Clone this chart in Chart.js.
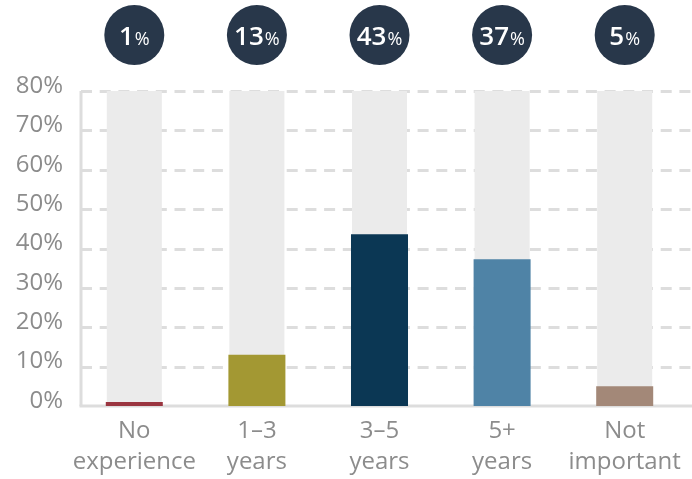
<!DOCTYPE html>
<html>
<head>
<meta charset="utf-8">
<script src="https://cdn.jsdelivr.net/npm/chart.js"></script>
<style>
html,body{margin:0;padding:0;background:#fff;}
#wrap{width:692px;height:479px;position:relative;}
</style>
</head>
<body>
<div id="wrap"><canvas id="myChart"></canvas></div>
<script>
// data
const categories = [['No', 'experience'], ['1–3', 'years'], ['3–5', 'years'], ['5+', 'years'], ['Not', 'important']]
const shares = [1, 13, 43.6, 37.3, 5]
const shareLabels = ['1', '13', '43', '37', '5']
const backdrop = [80, 80, 80, 80, 80]
const barColors = ['#9a3540', '#a39833', '#0b3754', '#4f83a6', '#a38878']
const yTicks = [0, 10, 20, 30, 40, 50, 60, 70, 80]

const FONT = '"Open Sans", sans-serif'

// dashed grid, axis line and base line
const gridPlugin = {
  id: 'dashGrid',
  beforeDatasetsDraw(chart){
    const {ctx, scales: {y}} = chart
    const left = chart.chartArea.left + 8, right = chart.width
    ctx.save()
    ctx.strokeStyle = '#dddddd'
    ctx.lineWidth = 3
    ctx.setLineDash([11, 7.7])
    for(const t of yTicks){
      if(t === 0) continue
      const py = Math.round(y.getPixelForValue(t)) + 0.5
      ctx.beginPath(); ctx.moveTo(left, py); ctx.lineTo(right, py); ctx.stroke()
    }
    ctx.setLineDash([])
    const top = y.getPixelForValue(80), base = y.getPixelForValue(0)
    ctx.beginPath(); ctx.moveTo(left, top); ctx.lineTo(left, base); ctx.stroke()
    ctx.beginPath(); ctx.moveTo(left - 1.5, base); ctx.lineTo(right, base); ctx.stroke()
    ctx.restore()
  }
}

// dark circles with the share above each bar
const bubblePlugin = {
  id: 'bubbles',
  afterDatasetsDraw(chart){
    const {ctx, scales: {x}} = chart
    ctx.save()
    shareLabels.forEach((lab, i)=>{
      const cx = x.getPixelForValue(i), cy = 35
      ctx.fillStyle = '#28374a'
      ctx.beginPath(); ctx.arc(cx, cy, 30, 0, Math.PI * 2); ctx.fill()
      ctx.fillStyle = '#ffffff'
      ctx.textBaseline = 'alphabetic'
      ctx.textAlign = 'left'
      ctx.font = '600 26px ' + FONT
      const w1 = ctx.measureText(lab).width
      ctx.font = '500 18px ' + FONT
      const w2 = ctx.measureText('%').width
      const sx = cx - (w1 + w2 + 1) / 2
      ctx.font = '600 26px ' + FONT
      ctx.fillText(lab, sx, 45)
      ctx.font = '500 18px ' + FONT
      ctx.fillText('%', sx + w1 + 1, 45)
    })
    ctx.restore()
  }
}

const config = {
  type: 'bar',
  data: {
    labels: categories,
    datasets: [
      {
        data: shares,
        backgroundColor: barColors,
        barPercentage: 0.465,
        categoryPercentage: 1,
        grouped: false
      },
      {
        data: backdrop,
        backgroundColor: '#ebebeb',
        barPercentage: 0.449,
        categoryPercentage: 1,
        grouped: false
      }
    ]
  },
  options: {
    responsive: true,
    maintainAspectRatio: false,
    animation: false,
    layout: {padding: {top: 91, right: 6, left: 0, bottom: 0}},
    plugins: {legend: {display: false}, tooltip: {enabled: false}},
    scales: {
      x: {
        grid: {display: false, drawTicks: false},
        border: {display: false},
        ticks: {
          color: '#8c8c8c',
          font: {family: FONT, size: 24, lineHeight: 1.28},
          padding: 10,
          maxRotation: 0,
          autoSkip: false
        },
        afterFit(scale){ scale.height = 73 }
      },
      y: {
        min: 0,
        max: 80,
        afterBuildTicks(scale){ scale.ticks = yTicks.map(v=>({value: v})) },
        grid: {display: false, drawTicks: false},
        border: {display: false},
        ticks: {
          color: '#8c8c8c',
          font: {family: FONT, size: 24},
          padding: 10,
          labelOffset: -5,
          callback: v=>v + '%'
        },
        afterFit(scale){ scale.width = 73 }
      }
    }
  },
  plugins: [gridPlugin, bubblePlugin]
}

new Chart(document.getElementById('myChart'), config)
</script>
</body>
</html>
